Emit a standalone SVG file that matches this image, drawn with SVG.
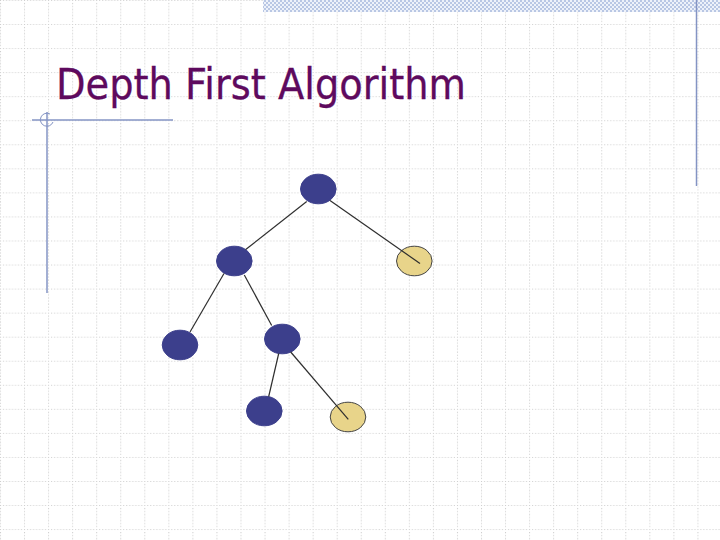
<svg xmlns="http://www.w3.org/2000/svg" width="720" height="540" viewBox="0 0 720 540">
  <defs>
    <pattern id="grid" x="0" y="0" width="24.05" height="24.05" patternUnits="userSpaceOnUse">
      <line x1="0.5" y1="0" x2="0.5" y2="24.05" stroke="#cccccc" stroke-width="1" stroke-dasharray="1,2"/>
      <line x1="0" y1="0.5" x2="24.05" y2="0.5" stroke="#cccccc" stroke-width="1" stroke-dasharray="1,2"/>
    </pattern>
    <pattern id="checker" x="0" y="0" width="4" height="4" patternUnits="userSpaceOnUse">
      <rect width="4" height="4" fill="#eef2fa"/>
      <rect width="2" height="2" fill="#b9c7e4"/>
      <rect x="2" y="2" width="2" height="2" fill="#b9c7e4"/>
    </pattern>
    <style>
      .frame { stroke: #8494c4; stroke-width: 1.5; fill: none; }
      .edge { stroke: #2e2e2e; stroke-width: 1.2; fill: none; }
      .visited { fill: #3c3f8c; stroke: #3c3f8c; stroke-width: 1; }
      .open { fill: #e8d48a; stroke: #444444; stroke-width: 1; }
      .title { font-family: "DejaVu Sans", Verdana, sans-serif; font-size: 42px; fill: #5e0a5e; stroke: #5e0a5e; stroke-width: 0.3; }
    </style>
  </defs>

  <rect width="720" height="540" fill="#ffffff"/>
  <rect width="720" height="540" fill="url(#grid)"/>
  <rect x="263" y="0" width="457" height="12" fill="url(#checker)"/>

  <g id="decor">
    <line class="frame" x1="696.5" y1="0" x2="696.5" y2="186"/>
    <line class="frame" x1="32" y1="120" x2="173" y2="120"/>
    <line class="frame" x1="47" y1="112" x2="47" y2="293"/>
    <path d="M50 114 A6.5 6.5 0 1 0 53 122" fill="none" stroke="#8494c4" stroke-width="1"/>
  </g>

  <text class="title" x="56" y="99" textLength="410" lengthAdjust="spacingAndGlyphs">Depth First Algorithm</text>

  <g id="nodes">
    <g id="n-root"><ellipse class="visited" cx="318.3" cy="189" rx="17.8" ry="14.8"/></g>
    <g id="n-left"><ellipse class="visited" cx="234.3" cy="261" rx="17.8" ry="14.8"/></g>
    <g id="n-right"><ellipse class="open" cx="414.3" cy="261" rx="17.8" ry="14.8"/></g>
    <g id="n-ll"><ellipse class="visited" cx="180" cy="345" rx="17.8" ry="14.8"/></g>
    <g id="n-lr"><ellipse class="visited" cx="282.3" cy="339" rx="17.8" ry="14.8"/></g>
    <g id="n-lrl"><ellipse class="visited" cx="264.3" cy="411" rx="17.8" ry="14.8"/></g>
    <g id="n-lrr"><ellipse class="open" cx="348" cy="417" rx="17.8" ry="14.8"/></g>
  </g>

  <g id="connectors">
    <line class="edge" x1="306.7" y1="201.5" x2="245.7" y2="249.5"/>
    <line class="edge" x1="330" y1="200.5" x2="420" y2="263.5"/>
    <line class="edge" x1="224" y1="273.5" x2="190" y2="332"/>
    <line class="edge" x1="244.3" y1="275" x2="271.7" y2="325.5"/>
    <line class="edge" x1="278.7" y1="353.5" x2="268.7" y2="396.5"/>
    <line class="edge" x1="290.7" y1="352" x2="348.3" y2="419.3"/>
  </g>
</svg>
